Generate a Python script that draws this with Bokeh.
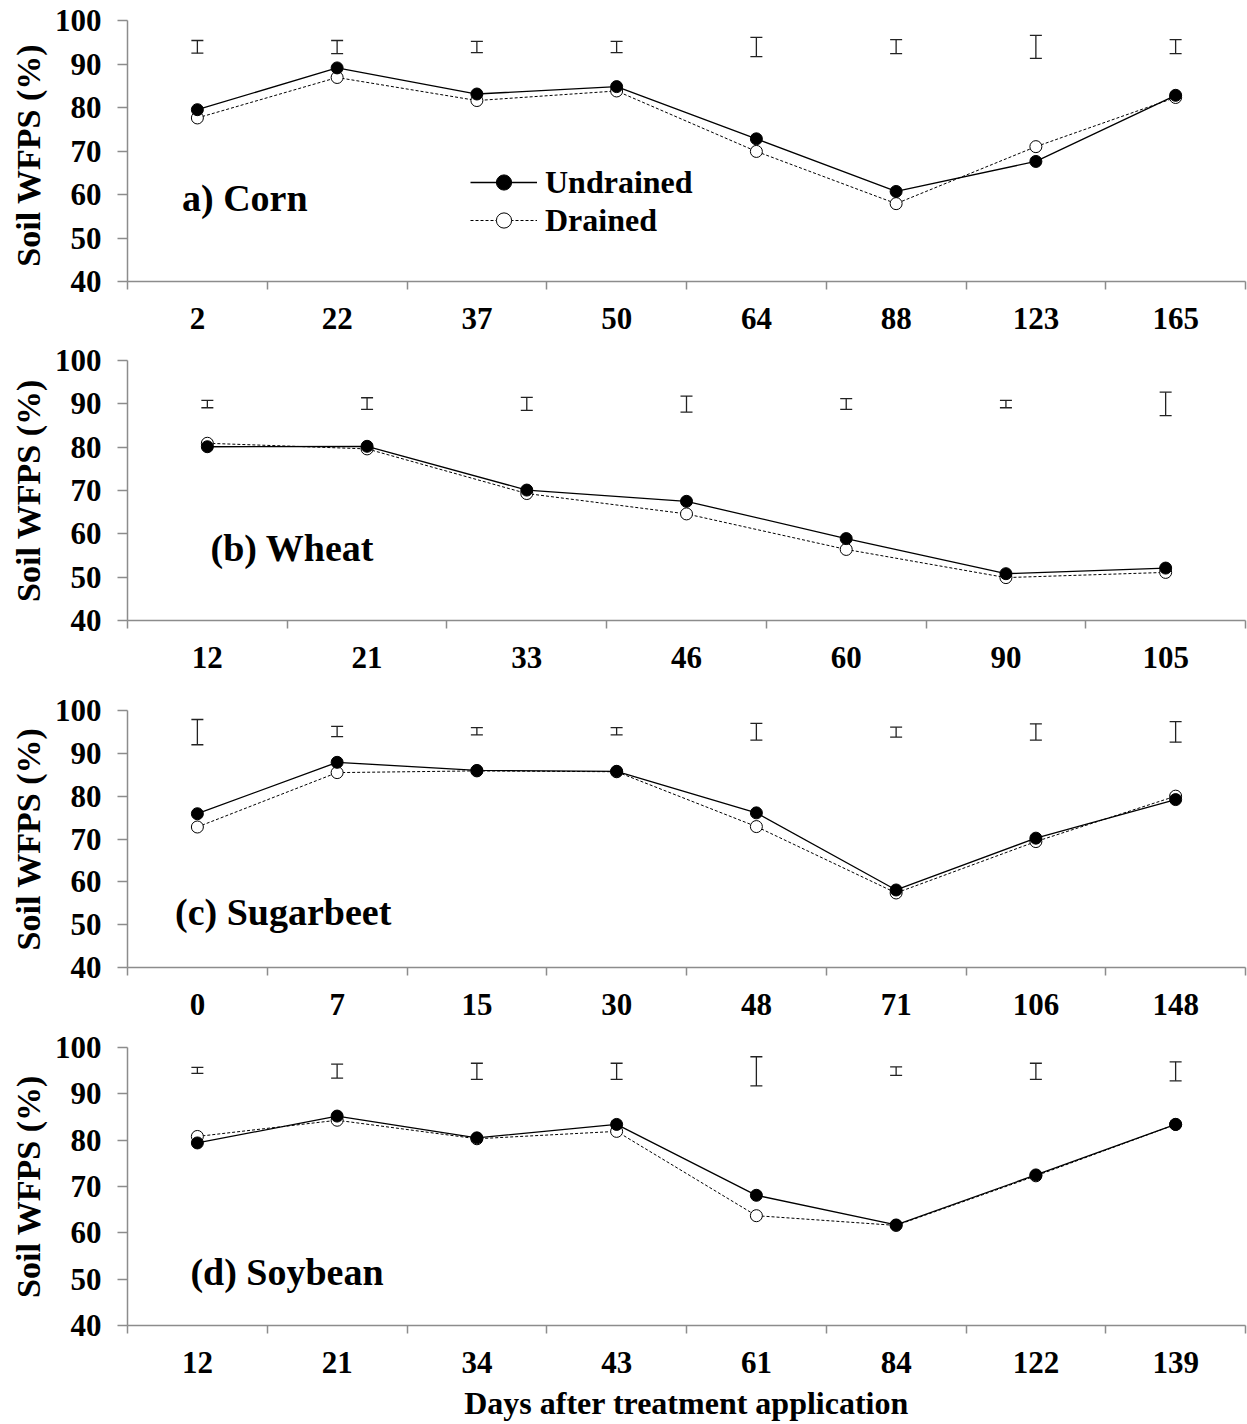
from bokeh.plotting import figure
from bokeh.models import (Range1d, FixedTicker, Whisker, TeeHead, ColumnDataSource,
                          Label, Legend, LegendItem)
from bokeh.layouts import column
from bokeh.embed import file_html
from bokeh.resources import INLINE

FONT = "Liberation Serif"
AXIS_GRAY = "#8c8c8c"

# ---------------- data ----------------
corn_days = ["2", "22", "37", "50", "64", "88", "123", "165"]
corn_undrained = [79.5, 89.1, 83.1, 84.8, 72.8, 60.7, 67.6, 82.8]
corn_drained = [77.6, 86.9, 81.6, 83.8, 69.9, 57.9, 71.0, 82.3]
corn_err_low = [92.5, 92.4, 92.6, 92.6, 91.7, 92.4, 91.3, 92.4]
corn_err_high = [95.4, 95.4, 95.2, 95.2, 96.1, 95.6, 96.6, 95.6]

wheat_days = ["12", "21", "33", "46", "60", "90", "105"]
wheat_undrained = [80.1, 80.2, 70.1, 67.5, 58.9, 50.8, 52.1]
wheat_drained = [80.9, 79.6, 69.3, 64.6, 56.4, 49.9, 51.1]
wheat_err_low = [89.1, 88.7, 88.5, 88.1, 88.7, 89.1, 87.3]
wheat_err_high = [90.8, 91.4, 91.5, 91.8, 91.2, 90.8, 92.7]

beet_days = ["0", "7", "15", "30", "48", "71", "106", "148"]
beet_undrained = [75.9, 87.9, 86.0, 85.8, 76.1, 58.1, 70.2, 79.2]
beet_drained = [72.8, 85.5, 85.9, 85.7, 72.9, 57.4, 69.4, 80.0]
beet_err_low = [92.0, 93.9, 94.3, 94.3, 93.1, 93.8, 93.1, 92.6]
beet_err_high = [97.9, 96.3, 96.0, 96.0, 97.0, 96.1, 96.9, 97.4]

soy_days = ["12", "21", "34", "43", "61", "84", "122", "139"]
soy_undrained = [79.4, 85.2, 80.5, 83.4, 68.1, 61.7, 72.5, 83.4]
soy_drained = [80.8, 84.3, 80.3, 81.9, 63.7, 61.6, 72.3, 83.4]
soy_err_low = [94.4, 93.4, 93.1, 93.1, 91.7, 94.0, 93.1, 92.8]
soy_err_high = [95.7, 96.4, 96.6, 96.6, 98.0, 95.8, 96.6, 96.9]

y_ticks = [40, 50, 60, 70, 80, 90, 100]


def make_panel(days, und, dr, lo, hi, title, tx, ty, ylabel, height,
               left, bottom, xlabel=None, legend=False):
    n = len(days)
    centers = [i + 0.5 for i in range(n)]
    p = figure(width=1247, height=height, output_backend="svg",
               toolbar_location=None, x_range=Range1d(0, n),
               y_range=Range1d(40, 100),
               min_border_left=left, min_border_right=2,
               min_border_top=20, min_border_bottom=bottom)
    p.outline_line_color = None
    p.grid.visible = False
    p.background_fill_color = "white"

    # axes
    yax = p.yaxis[0]
    yax.ticker = FixedTicker(ticks=y_ticks)
    yax.axis_line_color = AXIS_GRAY
    yax.axis_line_width = 1.5
    yax.major_tick_line_color = AXIS_GRAY
    yax.major_tick_line_width = 1.5
    yax.major_tick_out = 10
    yax.major_tick_in = 0
    yax.minor_tick_line_color = None
    yax.major_label_text_font = FONT
    yax.major_label_text_font_size = "31px"
    yax.major_label_text_font_style = "bold"
    yax.major_label_text_color = "black"
    yax.major_label_standoff = 16
    yax.axis_label = ylabel
    yax.axis_label_text_font = FONT
    yax.axis_label_text_font_size = "34px"
    yax.axis_label_text_font_style = "bold"
    yax.axis_label_text_color = "black"
    yax.axis_label_standoff = 5

    xax = p.xaxis[0]
    xax.ticker = FixedTicker(ticks=centers, minor_ticks=list(range(n + 1)))
    xax.major_label_overrides = {c: d for c, d in zip(centers, days)}
    xax.axis_line_color = AXIS_GRAY
    xax.axis_line_width = 1.5
    xax.major_tick_line_color = None
    xax.major_tick_out = 0
    xax.major_tick_in = 0
    xax.minor_tick_line_color = AXIS_GRAY
    xax.minor_tick_line_width = 1.5
    xax.minor_tick_out = 8
    xax.minor_tick_in = 0
    xax.major_label_text_font = FONT
    xax.major_label_text_font_size = "31px"
    xax.major_label_text_font_style = "bold"
    xax.major_label_text_color = "black"
    xax.major_label_standoff = 18
    if xlabel:
        xax.axis_label = xlabel
        xax.axis_label_text_font = FONT
        xax.axis_label_text_font_size = "32px"
        xax.axis_label_text_font_style = "bold"
        xax.axis_label_text_color = "black"
        xax.axis_label_standoff = 9

    # error bars (LSD bars)
    err_src = ColumnDataSource(dict(x=centers, lo=lo, hi=hi))
    wh = Whisker(source=err_src, base="x", lower="lo", upper="hi",
                 dimension="height", line_color="#222222", line_width=1.3,
                 upper_head=TeeHead(size=12, line_color="#222222", line_width=1.3),
                 lower_head=TeeHead(size=12, line_color="#222222", line_width=1.3))
    p.add_layout(wh)

    src = ColumnDataSource(dict(x=centers, und=und, dr=dr))
    l_dr = p.line("x", "dr", source=src, line_color="black", line_width=1,
                  line_dash="3 2")
    s_dr = p.scatter("x", "dr", source=src, marker="circle", size=12,
                     fill_color="white", line_color="black", line_width=1)
    l_un = p.line("x", "und", source=src, line_color="black", line_width=1.3)
    s_un = p.scatter("x", "und", source=src, marker="circle", size=12,
                     fill_color="black", line_color="black")

    p.add_layout(Label(x=tx, y=ty, text=title, text_font=FONT,
                       text_font_size="38px", text_font_style="bold",
                       text_color="black", text_baseline="middle"))

    if legend:
        leg = Legend(items=[LegendItem(label="Undrained", renderers=[l_un, s_un]),
                            LegendItem(label="Drained", renderers=[l_dr, s_dr])],
                     location=(343, 42), orientation="vertical",
                     glyph_width=67, glyph_height=38, label_height=38,
                     label_standoff=8, spacing=0, padding=0, margin=0,
                     border_line_color=None, background_fill_alpha=0,
                     label_text_font=FONT, label_text_font_size="32px",
                     label_text_font_style="bold", label_text_color="black")
        p.add_layout(leg)
    return p


pa = make_panel(corn_days, corn_undrained, corn_drained, corn_err_low, corn_err_high,
                "a) Corn", 0.39, 59.3, "Soil  WFPS (%)", 340, 125, 59, legend=True)
pb = make_panel(wheat_days, wheat_undrained, wheat_drained, wheat_err_low, wheat_err_high,
                "(b) Wheat", 0.52, 56.8, "Soil WFPS (%)", 350, 123, 70)
pc = make_panel(beet_days, beet_undrained, beet_drained, beet_err_low, beet_err_high,
                "(c) Sugarbeet", 0.34, 53.0, "Soil WFPS (%)", 337, 127, 60)
pd = make_panel(soy_days, soy_undrained, soy_drained, soy_err_low, soy_err_high,
                "(d) Soybean", 0.45, 51.5, "Soil WFPS (%)", 397, 125, 99,
                xlabel="Days after treatment application")

layout = column(pa, pb, pc, pd, spacing=0)
open("out.html", "w").write(file_html(layout, INLINE))
